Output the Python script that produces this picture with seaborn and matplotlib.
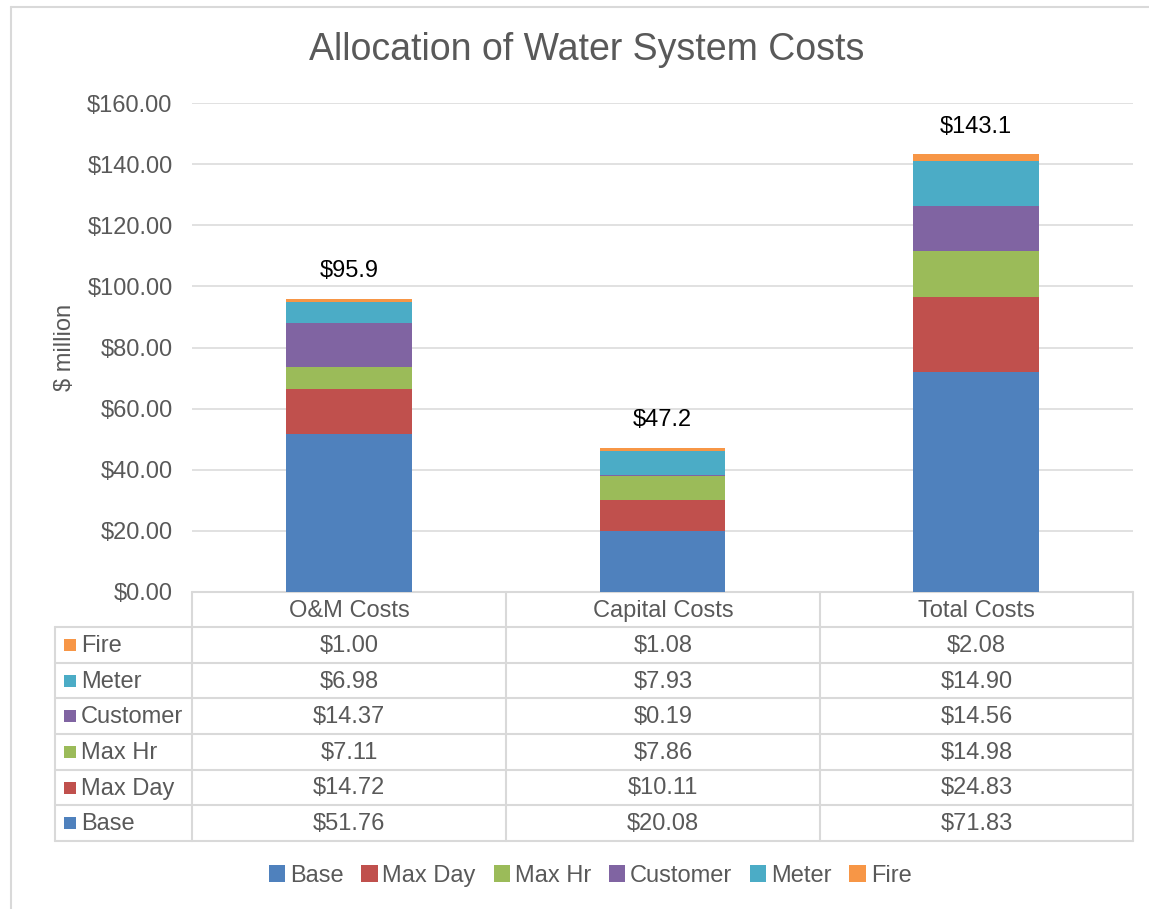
import matplotlib
matplotlib.use("Agg")
import matplotlib.pyplot as plt
import seaborn as sns
import numpy as np
from matplotlib.patches import Rectangle, Patch

categories = ["O&M Costs", "Capital Costs", "Total Costs"]
series_names = ["Base", "Max Day", "Max Hr", "Customer", "Meter", "Fire"]
base = [51.76, 20.08, 71.83]
max_day = [14.72, 10.11, 24.83]
max_hr = [7.11, 7.86, 14.98]
customer = [14.37, 0.19, 14.56]
meter = [6.98, 7.93, 14.90]
fire = [1.00, 1.08, 2.08]
totals = [95.9, 47.2, 143.1]
yticks = [0, 20, 40, 60, 80, 100, 120, 140, 160]
colors = ["#4F81BD", "#C0504D", "#9BBB59", "#8064A2", "#4BACC6", "#F79646"]

series = [base, max_day, max_hr, customer, meter, fire]

sns.set_theme(style="white")
plt.rcParams["font.family"] = ["Liberation Sans", "DejaVu Sans"]
GRAY = "#595959"
LINE = "#D9D9D9"
FS = 17

W, H = 1149, 909
fig = plt.figure(figsize=(W / 100, H / 100), dpi=100)

# overlay axes in pixel coords for table/border
axt = fig.add_axes([0, 0, 1, 1], zorder=0)
axt.set_xlim(0, W)
axt.set_ylim(H, 0)
axt.axis("off")
axt.patch.set_visible(False)

L, R, T, B = 192, 1133, 103, 592
ax = fig.add_axes([L / W, 1 - B / H, (R - L) / W, (B - T) / H], zorder=1)
ax.patch.set_visible(False)

bottom = np.zeros(3)
for name, vals, col in zip(series_names, series, colors):
    sns.barplot(x=categories, y=vals, bottom=bottom, color=col, width=0.4,
                ax=ax, zorder=3, linewidth=0, saturation=1)
    bottom = bottom + np.array(vals)

ax.set_xlim(-0.5, 2.5)
ax.set_ylim(0, 160)
ax.set_yticks(yticks)
ax.set_yticklabels([f"${v:.2f}" for v in yticks], color=GRAY, fontsize=FS)
ax.tick_params(axis="y", length=0, pad=14)
ax.set_xticks([])
ax.set_xlabel("")
ax.grid(axis="y", color=LINE, linewidth=1.1, zorder=0)
ax.set_axisbelow(True)
for s in ax.spines.values():
    s.set_visible(False)
ax.set_ylabel("$ million", color=GRAY, fontsize=FS, labelpad=8)

for i, t in enumerate(totals):
    ax.annotate(f"${t:.1f}", xy=(i, bottom[i]), xytext=(0, 20), textcoords="offset points",
                ha="center", va="center", fontsize=FS, color="black")

# Title
fig.text(586.5 / W, 1 - 50 / H, "Allocation of Water System Costs", ha="center", va="center",
         fontsize=27, color=GRAY)

# Figure border (top & left)
axt.plot([11, 11], [7, H], color=LINE, lw=1.5)
axt.plot([11, W], [7, 7], color=LINE, lw=1.5)

# Data table
col_x = [192, 506, 820, 1133]
left_x = 55
row_top = 627
row_h = (841 - 627) / 6
lw = 1.5
axt.plot([192, 1133], [592, 592], color=LINE, lw=lw)
for xv in col_x:
    axt.plot([xv, xv], [592, 841], color=LINE, lw=lw)
axt.plot([left_x, left_x], [627, 841], color=LINE, lw=lw)
for k in range(7):
    yv = row_top + k * row_h
    axt.plot([left_x, 1133], [yv, yv], color=LINE, lw=lw)
for j, c in enumerate(categories):
    axt.text((col_x[j] + col_x[j + 1]) / 2, 611, c, ha="center", va="center",
             fontsize=FS, color=GRAY)
rev = list(zip(series_names, series, colors))[::-1]
for k, (name, vals, col) in enumerate(rev):
    yc = row_top + (k + 0.5) * row_h
    axt.add_patch(Rectangle((64, yc - 6), 12, 12, color=col, lw=0))
    axt.text(81, yc + 1, name, ha="left", va="center", fontsize=FS, color=GRAY)
    for j, v in enumerate(vals):
        axt.text((col_x[j] + col_x[j + 1]) / 2, yc + 1, f"${v:.2f}", ha="center", va="center",
                 fontsize=FS, color=GRAY)

handles = [Patch(facecolor=c, edgecolor="none", label=n) for n, c in zip(series_names, colors)]
leg = fig.legend(handles=handles, loc="center", bbox_to_anchor=(590 / W, 1 - 876 / H), ncol=6,
                 frameon=False, fontsize=FS, handlelength=0.7, handleheight=0.7,
                 handletextpad=0.2, columnspacing=0.75, labelcolor=GRAY)

fig.savefig("out.png", dpi=100)
